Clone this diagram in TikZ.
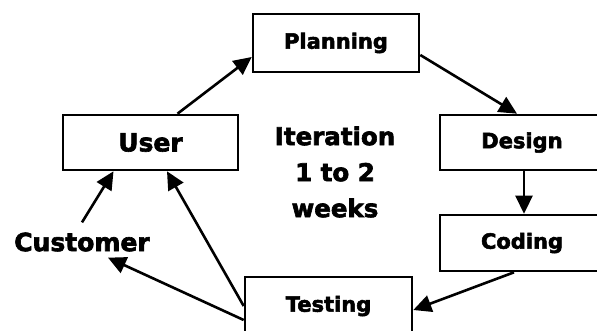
\documentclass[tikz,border=0pt]{standalone}
\usepackage{fontspec}
\setmainfont{DejaVu Sans}[BoldFeatures={FakeBold=2.5}]
\usetikzlibrary{arrows.meta}
\tikzset{
  box/.style={draw, line width=2.6pt, fill=white, inner sep=0pt,
    font=\bfseries\fontsize{21}{24}\selectfont},
  lbl/.style={inner sep=0pt, font=\bfseries\fontsize{25}{29}\selectfont},
  arr/.style={line width=2.6pt, -{Triangle[length=18pt,width=17pt]}}
}
\begin{document}
\begin{tikzpicture}[x=1pt,y=-1pt]
\useasboundingbox (0,0) rectangle (597,330);
\clip (0,0) rectangle (597,330);
\fill[white] (0,0) rectangle (597,330);

% process boxes
\node[box, minimum width=166pt, minimum height=58pt] (plan) at (336,43) {Planning};
\node[box, minimum width=164pt, minimum height=55pt] (design) at (522,142.5) {Design};
\node[box, minimum width=164pt, minimum height=56pt] (coding) at (522,243) {Coding};
\node[box, minimum width=167pt, minimum height=58pt] (test) at (328.5,306) {Testing};
\node[box, minimum width=175pt, minimum height=55pt,
      font=\bfseries\fontsize{25}{29}\selectfont] (user) at (150.5,142.5) {User};

% free labels
\node[lbl] (cust) at (82,242) {Customer};
\node[lbl, align=center, font=\bfseries\fontsize{24.5}{36}\selectfont] (iter) at (335,172)
  {Iteration\\1 to 2\\weeks};

% cycle connectors
\draw[arr] ([xshift=27pt]user.north) -- ([yshift=-14pt]plan.west);
\draw[arr] ([yshift=-12pt]plan.east) -- ([xshift=-5pt]design.north);
\draw[arr] ([xshift=2pt]design.south) -- ([xshift=2pt]coding.north);
\draw[arr] ([xshift=-8pt]coding.south) -- ([yshift=-4pt]test.east);
\draw[arr] (test.west) -- ([xshift=16.5pt]user.south);
\draw[arr] ([yshift=-14pt]test.west) -- ([xshift=26pt,yshift=-6pt]cust.south);
\draw[arr] ([yshift=10pt]cust.north) -- ([xshift=-37pt]user.south);
\end{tikzpicture}
\end{document}
